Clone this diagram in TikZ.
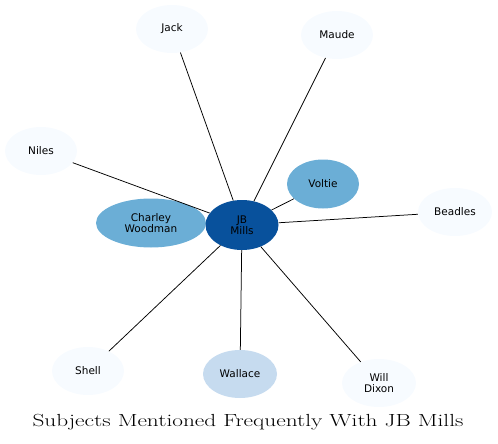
\documentclass[tikz,border=0pt]{standalone}
\usepackage{fontspec}
\newfontfamily\graphfont{DejaVu Sans}
\usetikzlibrary{shapes.geometric,positioning}
\definecolor{bluesA}{HTML}{F7FBFF}
\definecolor{bluesB}{HTML}{C6DBEF}
\definecolor{bluesC}{HTML}{6BAED6}
\definecolor{bluesD}{HTML}{08519C}
\tikzset{
  subject vertex/.style={ellipse,draw=none,fill=bluesA,minimum width=72pt,
    minimum height=48pt,inner sep=0pt,align=center,
    font=\graphfont\fontsize{10.5}{11}\selectfont},
  subject edge/.style={draw=black,line width=0.75pt},
  title label/.style={font=\fontsize{17.5}{20}\selectfont}
}
\begin{document}
\begin{tikzpicture}[x=1pt,y=-1pt]
    \useasboundingbox (0,0) rectangle (498,444);
    \coordinate (posJB) at (242,225);
    \coordinate (posCharley) at (151,223);
    \coordinate (posVoltie) at (323,184);
    \coordinate (posJack) at (172,29);
    \coordinate (posMaude) at (337,35);
    \coordinate (posNiles) at (41,151);
    \coordinate (posBeadles) at (455,212);
    \coordinate (posShell) at (88,371);
    \coordinate (posWallace) at (240,374);
    \coordinate (posWill) at (379,383);
    \node[subject vertex] (jack) at (posJack) {Jack};
    \node[subject vertex] (maude) at (posMaude) {Maude};
    \node[subject vertex] (niles) at (posNiles) {Niles};
    \node[subject vertex,minimum width=74pt] (beadles) at (posBeadles) {Beadles};
    \node[subject vertex] (shell) at (posShell) {Shell};
    \node[subject vertex,fill=bluesB,minimum width=74pt] (wallace) at (posWallace) {Wallace};
    \node[subject vertex,minimum width=74pt] (will) at (posWill) {Will\\Dixon};
    \node[subject vertex,fill=bluesC,minimum height=49pt] (voltie) at (posVoltie) {Voltie};
    \node[subject vertex,fill=bluesC,minimum width=110pt,minimum height=49pt]
      (charley) at (posCharley) {Charley\\Woodman};
    \node[subject vertex,fill=bluesD,minimum width=73pt,minimum height=50pt]
      (jb) at (posJB) {JB\\Mills};
    \foreach \other in {jack,maude,niles,beadles,shell,wallace,will,voltie}
      \draw[subject edge] (jb) -- (\other);
    \node[title label] (title) at (248,422)
      {\scalebox{1.33}[1]{Subjects Mentioned Frequently With JB Mills}};
  \end{tikzpicture}
\end{document}
